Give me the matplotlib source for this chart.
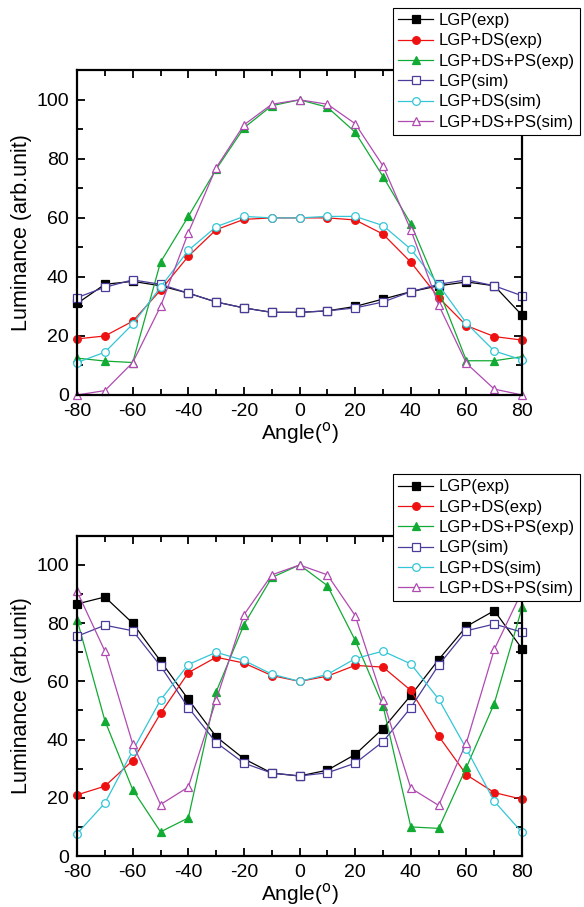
import matplotlib
matplotlib.use("Agg")
import matplotlib.pyplot as plt
from matplotlib.ticker import MultipleLocator

plt.rcParams['font.family'] = ['Liberation Sans', 'DejaVu Sans']
plt.rcParams['axes.unicode_minus'] = False

angles = [-80, -70, -60, -50, -40, -30, -20, -10, 0, 10, 20, 30, 40, 50, 60, 70, 80]

# top panel
top_lgp_exp = [31, 37.5, 38.5, 37, 34.5, 31.5, 29.5, 28, 28, 28.5, 30, 32.5, 35, 37, 38.3, 37, 27]
top_ds_exp = [19, 20, 25, 35.5, 47, 56, 59.5, 60, 60, 60, 59.3, 54.5, 45, 33, 23.5, 19.8, 18.6]
top_ps_exp = [12.5, 11.5, 11, 45, 60.5, 76.5, 90.5, 98, 100, 97.5, 89, 74, 58, 35.6, 11.6, 11.6, 13]
top_lgp_sim = [33, 36.5, 39, 37.5, 34.5, 31.5, 29.5, 28, 28, 28.5, 29.5, 31.5, 35, 37.5, 39, 37, 33.6]
top_ds_sim = [11, 14.5, 24, 36.5, 49, 57, 60.5, 60, 60, 60.5, 60.5, 57.4, 49.4, 37.3, 24.3, 14.9, 11.9]
top_ps_sim = [0, 1.5, 11, 30, 55, 77, 91.5, 98.5, 100, 98.5, 91.9, 77.6, 55.9, 30.5, 10.7, 2, 0]

# bottom panel
bot_lgp_exp = [86.6, 89, 80, 67, 53.8, 41, 33.4, 28.5, 27.5, 29.5, 34.9, 43.8, 55.2, 67.5, 78.9, 84.3, 71.2]
bot_ds_exp = [21, 24, 32.8, 49, 63, 68.3, 66.3, 62, 60, 61.8, 65.5, 64.9, 56.9, 41.2, 27.9, 21.8, 19.5]
bot_ps_exp = [81.2, 46.5, 22.8, 8.3, 13.1, 56.4, 79.5, 95.7, 100, 92.9, 74.1, 51.6, 10, 9.5, 30.5, 52.4, 85.4]
bot_lgp_sim = [75.5, 79.3, 77.4, 65.3, 51, 39, 31.9, 28.5, 27.5, 28.6, 31.9, 39.3, 51, 65.6, 77.4, 79.7, 76.9]
bot_ds_sim = [7.7, 18.2, 36.2, 53.6, 65.8, 70, 67.2, 62.5, 60, 62.4, 67.8, 70.4, 66, 53.9, 36.8, 18.8, 8.1]
bot_ps_sim = [90.9, 70.4, 38.5, 17.7, 23.7, 53.6, 82.9, 96.6, 100, 96.6, 82.6, 53.5, 23.3, 17.4, 39, 71, 91]

labels = ['LGP(exp)', 'LGP+DS(exp)', 'LGP+DS+PS(exp)', 'LGP(sim)', 'LGP+DS(sim)', 'LGP+DS+PS(sim)']
styles = [
    dict(color='black', marker='s', mfc='black'),
    dict(color='#ee1111', marker='o', mfc='#ee1111'),
    dict(color='#11aa33', marker='^', mfc='#11aa33'),
    dict(color='#4a3c9a', marker='s', mfc='white'),
    dict(color='#33c6d6', marker='o', mfc='white'),
    dict(color='#b04ab0', marker='^', mfc='white'),
]


def draw_panel(fig, rect, series, legend_top):
    ax = fig.add_axes(rect)
    for vals, lab, st in zip(series, labels, styles):
        ax.plot(angles, vals, lw=0.9, ms=5.5, mew=0.9, mec=st['color'],
                label=lab, clip_on=False, **st)
    ax.set_xlim(-80, 80)
    ax.set_ylim(0, 110)
    ax.xaxis.set_major_locator(MultipleLocator(20))
    ax.xaxis.set_minor_locator(MultipleLocator(10))
    ax.yaxis.set_major_locator(MultipleLocator(20))
    ax.yaxis.set_minor_locator(MultipleLocator(10))
    ax.tick_params(which='both', direction='in', top=True, right=True,
                   labelsize=14, width=1.3)
    ax.tick_params(which='major', length=6, pad=6)
    ax.tick_params(which='minor', length=4)
    for sp in ax.spines.values():
        sp.set_linewidth(1.6)
    ax.set_xlabel('Angle($^{\\mathrm{o}}$)', fontsize=15, labelpad=0)
    ax.set_ylabel('Luminance (arb.unit)', fontsize=15.5, labelpad=3)
    leg = ax.legend(loc='upper left', bbox_to_anchor=(0.673, legend_top),
                    bbox_transform=fig.transFigure, fontsize=12,
                    frameon=True, fancybox=False, edgecolor='black',
                    framealpha=1, borderpad=0.3, labelspacing=0.32,
                    handlelength=2.1, handletextpad=0.35, borderaxespad=0)
    leg.get_frame().set_linewidth(0.8)
    return ax


fig = plt.figure(figsize=(5.84, 9.07), dpi=100)
draw_panel(fig, [0.132, 0.5645, 0.762, 0.358],
           [top_lgp_exp, top_ds_exp, top_ps_exp, top_lgp_sim, top_ds_sim, top_ps_sim], 0.991)
draw_panel(fig, [0.132, 0.0562, 0.762, 0.353],
           [bot_lgp_exp, bot_ds_exp, bot_ps_exp, bot_lgp_sim, bot_ds_sim, bot_ps_sim], 0.477)

fig.savefig('out.png', dpi=100)
